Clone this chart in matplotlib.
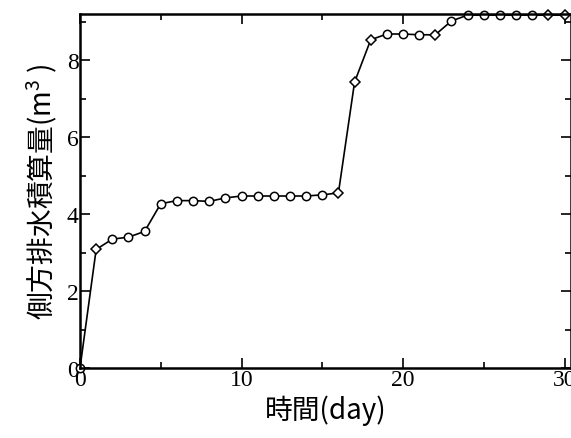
import numpy as np
import matplotlib.pyplot as plt
from matplotlib.ticker import MultipleLocator

plt.rcParams['font.family'] = ['Liberation Serif', 'Noto Sans CJK JP']
plt.rcParams['mathtext.fontset'] = 'custom'
plt.rcParams['mathtext.rm'] = 'Noto Sans CJK JP'

# 経過日数と側方排水積算量
days = [0, 1, 2, 3, 4, 5, 6, 7, 8, 9, 10, 11, 12, 13, 14, 15, 16,
        17, 18, 19, 20, 21, 22, 23, 24, 25, 26, 27, 28, 29, 30]
vol = [0.0, 3.08, 3.35, 3.40, 3.55, 4.27, 4.35, 4.35, 4.33, 4.42, 4.47, 4.47, 4.47,
       4.47, 4.47, 4.50, 4.55, 7.43, 8.53, 8.68, 8.68, 8.66, 8.66, 9.02, 9.17, 9.17,
       9.17, 9.17, 9.17, 9.17, 9.17]
marks = ['o', 'D', 'o', 'o', 'o', 'o', 'o', 'o', 'o', 'o', 'o', 'o', 'o', 'o', 'o', 'o', 'D',
         'D', 'D', 'o', 'o', 'o', 'D', 'o', 'o', 'o', 'o', 'o', 'o', 'D', 'D']

fig = plt.figure(figsize=(5.71, 4.39), dpi=100)
ax = fig.add_axes([80/571, 1-369/439, 1-80/571, (369-15)/439])

ax.plot(days, vol, color='k', lw=1.2, zorder=1)
for d, v, m in zip(days, vol, marks):
    ax.plot(d, v, marker=m, ms=6 if m == 'o' else 5.5, mfc='white', mec='k',
            mew=1.1, ls='none', zorder=2, clip_on=False)

ax.set_xlim(0, 30.4)
ax.set_ylim(0, 9.2)
ax.xaxis.set_major_locator(MultipleLocator(10))
ax.xaxis.set_minor_locator(MultipleLocator(5))
ax.yaxis.set_major_locator(MultipleLocator(2))
ax.yaxis.set_minor_locator(MultipleLocator(1))
ax.tick_params(which='both', direction='in', top=True, right=True, labelsize=17, width=1.2)
ax.tick_params(which='major', length=7, pad=1)
ax.tick_params(which='minor', length=4)
for s in ax.spines.values():
    s.set_linewidth(1.8)

ax.set_xlabel('時間(day)', fontsize=20, family=['Noto Sans CJK JP'], labelpad=3)
ax.set_ylabel('側方排水積算量(m$^3$ )', fontsize=20, family=['Noto Sans CJK JP'], labelpad=5)

fig.savefig('out.png', dpi=100)
plt.close()
